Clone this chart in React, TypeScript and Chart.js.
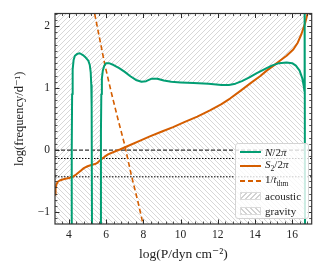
import React, { useEffect, useRef } from 'react';
import { Chart, registerables } from 'chart.js';

Chart.register(...registerables);

// ---------- axis limits & ticks ----------
const X_MIN = 3.25;
const X_MAX = 17.05;
const Y_MIN = -1.19;
const Y_MAX = 2.2;
const Y_FLOOR = -1.4;

const xMajorTicks = [4, 6, 8, 10, 12, 14, 16];
const yMajorTicks = [-1, 0, 1, 2];

// ---------- data: S2/2pi ----------
const s2LogP = [3.25, 3.28, 3.33, 3.4, 3.5, 3.7, 4.0, 4.2, 4.4, 4.6, 4.8, 5.0, 5.2, 5.4, 5.5, 5.6, 5.75, 5.9, 6.1, 6.4, 6.74, 7.2, 7.8, 8.35, 9.0, 9.6, 10.2, 10.9, 11.58, 12.2, 12.66, 13.2, 13.73, 14.27, 14.63, 15.0, 15.34, 15.7, 16.06, 16.3, 16.5, 16.69, 16.83, 16.95];
const s2Freq = [-0.72, -0.62, -0.55, -0.51, -0.49, -0.47, -0.45, -0.43, -0.39, -0.34, -0.29, -0.26, -0.24, -0.225, -0.21, -0.185, -0.145, -0.11, -0.07, -0.03, 0.01, 0.07, 0.15, 0.22, 0.3, 0.37, 0.45, 0.54, 0.64, 0.74, 0.83, 0.95, 1.07, 1.19, 1.28, 1.36, 1.44, 1.52, 1.62, 1.73, 1.87, 2.04, 2.2, 2.4];

// ---------- data: N/2pi (null = convective gap) ----------
const nLogP = [4.14, 4.15, 4.17, 4.2, 4.25, 4.32, 4.45, 4.58, 4.75, 4.9, 5.04, 5.12, 5.17, 5.2, 5.22, 5.24, 5.5, 5.71, 5.72, 5.74, 5.77, 5.82, 5.9, 6.0, 6.15, 6.4, 6.7, 7.0, 7.3, 7.6, 7.9, 8.15, 8.45, 8.75, 9.1, 9.5, 10.0, 10.7, 11.5, 12.2, 12.6, 12.95, 13.3, 13.7, 14.1, 14.5, 14.9, 15.3, 15.7, 16.0, 16.2, 16.4, 16.55, 16.63, 16.66, 16.67, 16.69];
const nFreq = [-1.4, 0.0, 0.9, 1.3, 1.45, 1.52, 1.55, 1.56, 1.53, 1.49, 1.44, 1.37, 1.25, 1.05, 0.7, -1.4, null, -1.4, 0.3, 0.9, 1.15, 1.28, 1.36, 1.4, 1.4, 1.37, 1.32, 1.26, 1.19, 1.13, 1.1, 1.11, 1.15, 1.15, 1.12, 1.1, 1.09, 1.08, 1.07, 1.05, 1.05, 1.07, 1.11, 1.17, 1.24, 1.3, 1.36, 1.4, 1.41, 1.4, 1.36, 1.28, 1.15, 1.02, 0.95, 2.6, -1.4];

// ---------- data: 1/t_thm ----------
const thmLogP = [5.3, 5.6, 5.94, 6.3, 6.65, 7.0, 7.35, 7.7, 8.05];
const thmFreq = [2.32, 1.87, 1.36, 0.9, 0.48, 0.08, -0.4, -0.82, -1.28];

// ---------- horizontal reference levels ----------
const refLevels = [0, -0.135, -0.43];
const refDashes = [[4, 2], [1.5, 1.5], [1.5, 1.5]];

const TEAL = '#029E73';
const ORANGE = '#D55E00';
const HATCH = '#d2d2d2';
const FONT = '"Liberation Serif", "DejaVu Serif", serif';

type Pt = { x: number; y: number | null };

const toPts = (xs: number[], ys: (number | null)[]): Pt[] => xs.map((x, i) => ({ x, y: ys[i] }));

function interp(xs: number[], ys: (number | null)[], x: number): number | null {
  for (let i = 0; i < xs.length - 1; i++) {
    const y0 = ys[i];
    const y1 = ys[i + 1];
    if (y0 == null || y1 == null) continue;
    if (x >= xs[i] && x <= xs[i + 1]) {
      const t = xs[i + 1] === xs[i] ? 0 : (x - xs[i]) / (xs[i + 1] - xs[i]);
      return y0 + t * (y1 - y0);
    }
  }
  return null;
}

function envelopes() {
  const lo = s2LogP[0];
  const hi = s2LogP[s2LogP.length - 1];
  const set = new Set<number>();
  s2LogP.forEach((v) => set.add(v));
  nLogP.forEach((v, i) => {
    if (nFreq[i] != null && v >= lo && v <= hi) set.add(v);
  });
  for (let k = Math.ceil(lo * 50); k <= Math.floor(hi * 50); k++) set.add(k / 50);
  const grid = Array.from(set).sort((a, b) => a - b);
  let nLast = 0;
  nLogP.forEach((v, i) => {
    if (nFreq[i] != null) nLast = v;
  });
  const upper: Pt[] = [];
  const lower: Pt[] = [];
  grid.forEach((x) => {
    const s = interp(s2LogP, s2Freq, x) as number;
    const n = interp(nLogP, nFreq, x);
    const u = n != null ? Math.max(n, s) : s;
    const l = n != null ? Math.min(n, s) : x > nLast ? Y_FLOOR : s;
    upper.push({ x, y: u });
    lower.push({ x, y: l });
  });
  return { upper, lower };
}

function makeHatch(forward: boolean): CanvasPattern | string {
  const s = 5;
  const c = document.createElement('canvas');
  c.width = s;
  c.height = s;
  const g = c.getContext('2d');
  if (!g) return HATCH;
  g.strokeStyle = HATCH;
  g.lineWidth = 0.9;
  for (let k = -1; k <= 1; k++) {
    g.beginPath();
    if (forward) {
      g.moveTo(k * s, s);
      g.lineTo(k * s + s, 0);
    } else {
      g.moveTo(k * s, 0);
      g.lineTo(k * s + s, s);
    }
    g.stroke();
  }
  return g.createPattern(c, 'repeat') || HATCH;
}

const frameTicks = {
  id: 'frameTicks',
  afterDatasetsDraw(chart: any) {
    const { ctx, chartArea: a } = chart;
    const xs = chart.scales.x;
    const ys = chart.scales.y;
    ctx.save();
    ctx.strokeStyle = '#2a2a2a';
    const xStep = (xMajorTicks[1] - xMajorTicks[0]) / 5;
    for (let k = Math.ceil(X_MIN / xStep); k <= Math.floor(X_MAX / xStep); k++) {
      const v = k * xStep;
      const major = k % 5 === 0;
      const len = major ? 4.5 : 2.5;
      ctx.lineWidth = major ? 1 : 0.8;
      const px = Math.round(xs.getPixelForValue(v)) + 0.5;
      ctx.beginPath();
      ctx.moveTo(px, a.bottom);
      ctx.lineTo(px, a.bottom - len);
      ctx.moveTo(px, a.top);
      ctx.lineTo(px, a.top + len);
      ctx.stroke();
    }
    const yStep = (yMajorTicks[1] - yMajorTicks[0]) / 10;
    for (let k = Math.ceil(Y_MIN / yStep); k <= Math.floor(Y_MAX / yStep); k++) {
      const v = k * yStep;
      const major = k % 10 === 0;
      const len = major ? 4.5 : 2.5;
      ctx.lineWidth = major ? 1 : 0.8;
      const py = Math.round(ys.getPixelForValue(v)) + 0.5;
      ctx.beginPath();
      ctx.moveTo(a.left, py);
      ctx.lineTo(a.left + len, py);
      ctx.moveTo(a.right, py);
      ctx.lineTo(a.right - len, py);
      ctx.stroke();
    }
    ctx.lineWidth = 1.2;
    ctx.strokeStyle = '#333';
    ctx.strokeRect(a.left, a.top, a.right - a.left, a.bottom - a.top);
    ctx.restore();
  },
};

const legendRows = [
  { kind: 'solid', color: TEAL, label: (<><i>N</i>/2<i>π</i></>) },
  { kind: 'solid', color: ORANGE, label: (<><i>S</i><sub style={{ fontSize: '0.7em' }}>2</sub>/2<i>π</i></>) },
  { kind: 'dashed', color: ORANGE, label: (<>1/<i>t</i><sub style={{ fontSize: '0.7em' }}>thm</sub></>) },
  { kind: 'fwd', color: HATCH, label: (<>acoustic</>) },
  { kind: 'back', color: HATCH, label: (<>gravity</>) },
];

function Legend() {
  return (
    <div
      style={{
        position: 'absolute',
        left: 235,
        top: 143,
        width: 74,
        height: 76,
        border: '1px solid #d4d4d4',
        borderRadius: 3,
        background: 'rgba(255,255,255,0.8)',
        boxSizing: 'border-box',
        fontFamily: FONT,
        fontSize: 11,
        color: '#222',
      }}
    >
      {legendRows.map((r, i) => {
        const cy = 7.5 + 14.8 * i;
        let swatch: React.ReactNode;
        if (r.kind === 'solid') {
          swatch = <div style={{ position: 'absolute', left: 4, top: cy - 1, width: 21, height: 2, background: r.color }} />;
        } else if (r.kind === 'dashed') {
          swatch = (
            <div
              style={{
                position: 'absolute', left: 4, top: cy - 0.75, width: 21, height: 1.5,
                background: `repeating-linear-gradient(90deg, ${r.color} 0 5px, transparent 5px 8px)`,
              }}
            />
          );
        } else {
          const ang = r.kind === 'fwd' ? '135deg' : '45deg';
          swatch = (
            <div
              style={{
                position: 'absolute', left: 4, top: cy - 4, width: 21, height: 8, boxSizing: 'border-box',
                border: '1px solid #dcdcdc',
                background: `repeating-linear-gradient(${ang}, ${HATCH} 0 1px, #fff 1px 3.5px)`,
              }}
            />
          );
        }
        return (
          <React.Fragment key={i}>
            {swatch}
            <div style={{ position: 'absolute', left: 29, top: cy, transform: 'translateY(-50%)', lineHeight: 1, whiteSpace: 'nowrap' }}>
              {r.label}
            </div>
          </React.Fragment>
        );
      })}
    </div>
  );
}

export default function App() {
  const ref = useRef<HTMLCanvasElement>(null);
  useEffect(() => {
    const canvas = ref.current;
    if (!canvas) return;
    const { upper, lower } = envelopes();
    const line = (data: Pt[], extra: any) => ({
      data,
      pointRadius: 0,
      fill: false,
      clip: 0,
      tension: 0,
      borderJoinStyle: 'round',
      ...extra,
    });
    const datasets: any[] = [
      line(upper, { fill: 'end', backgroundColor: makeHatch(true), borderWidth: 0, borderColor: 'rgba(0,0,0,0)', order: 10 }),
      line(lower, { fill: 'start', backgroundColor: makeHatch(false), borderWidth: 0, borderColor: 'rgba(0,0,0,0)', order: 10 }),
      ...refLevels.map((lvl, i) =>
        line([{ x: X_MIN, y: lvl }, { x: X_MAX, y: lvl }], { borderColor: '#000', borderWidth: 1, borderDash: refDashes[i], order: 5 })
      ),
      line(toPts(thmLogP, thmFreq), { borderColor: ORANGE, borderWidth: 1.6, borderDash: [5, 3], order: 3 }),
      line(toPts(s2LogP, s2Freq), { borderColor: ORANGE, borderWidth: 2, order: 2 }),
      line(toPts(nLogP, nFreq), { borderColor: TEAL, borderWidth: 2, spanGaps: false, order: 1 }),
    ];
    const tickFont = { family: FONT, size: 11.5 };
    const chart = new Chart(canvas, {
      type: 'line',
      data: { datasets },
      plugins: [frameTicks],
      options: {
        responsive: false,
        animation: false,
        events: [],
        layout: { padding: { left: 0, top: 13.5, right: 13.3, bottom: 0 } },
        plugins: { legend: { display: false }, tooltip: { enabled: false } },
        scales: {
          x: {
            type: 'linear',
            min: X_MIN,
            max: X_MAX,
            grid: { display: false, drawTicks: false },
            border: { display: false },
            afterBuildTicks: (s: any) => { s.ticks = xMajorTicks.map((v) => ({ value: v })); },
            afterFit: (s: any) => { s.height = 51; },
            ticks: { font: tickFont, color: '#222', padding: 4, maxRotation: 0, autoSkip: false, callback: (v: any) => String(v) },
            title: { display: true, text: 'log(P/dyn cm⁻²)', font: { family: FONT, size: 13.5 }, color: '#222', padding: { top: 0, bottom: 12 } },
          },
          y: {
            type: 'linear',
            min: Y_MIN,
            max: Y_MAX,
            grid: { display: false, drawTicks: false },
            border: { display: false },
            afterBuildTicks: (s: any) => { s.ticks = yMajorTicks.map((v) => ({ value: v })); },
            afterFit: (s: any) => { s.width = 55; },
            ticks: { font: tickFont, color: '#222', padding: 5, callback: (v: any) => (v < 0 ? '−' + Math.abs(v) : String(v)) },
            title: { display: true, text: 'log(frequency/d⁻¹)', font: { family: FONT, size: 12.5 }, color: '#222', padding: { top: 12.5, bottom: 0 } },
          },
        },
      } as any,
    });
    return () => chart.destroy();
  }, []);
  return (
    <div style={{ position: 'fixed', left: 0, top: 0, width: 325, height: 275, background: '#fff', overflow: 'hidden' }}>
      <canvas ref={ref} width={325} height={275} style={{ position: 'absolute', left: 0, top: 0, width: 325, height: 275 }} />
      <Legend />
    </div>
  );
}
